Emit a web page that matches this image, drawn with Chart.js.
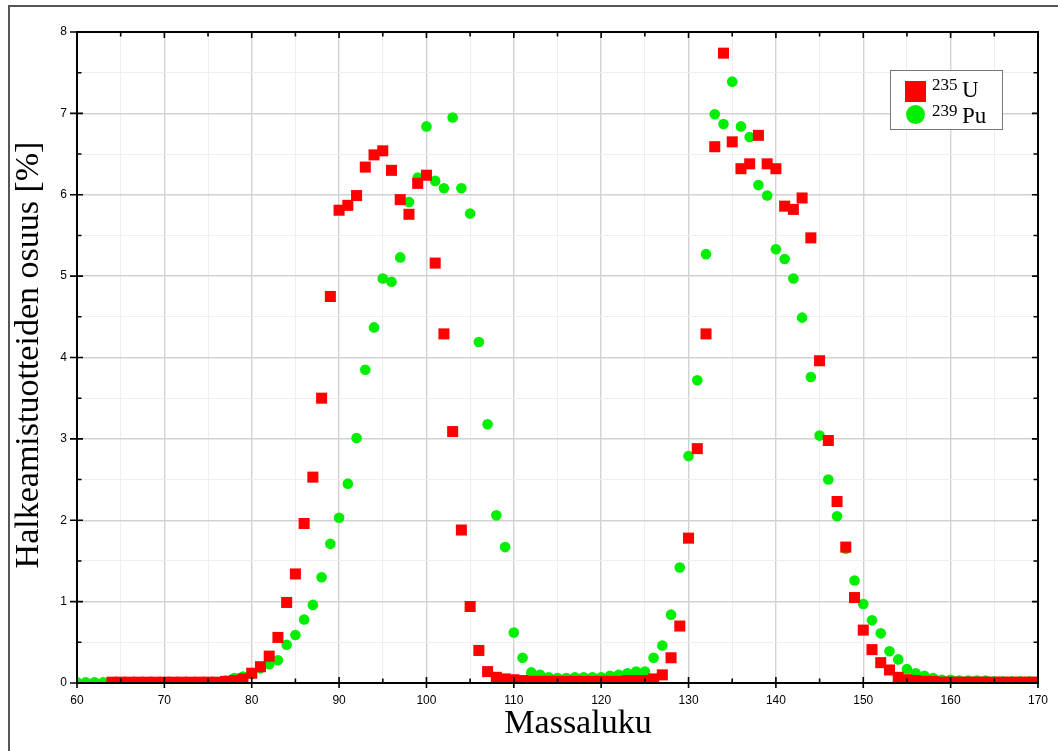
<!DOCTYPE html>
<html>
<head>
<meta charset="utf-8">
<title>Halkeamistuotteiden osuus</title>
<script src="https://cdn.jsdelivr.net/npm/chart.js@4.4.1/dist/chart.umd.min.js"></script>
<style>
  html, body { margin: 0; padding: 0; background: #fff; }
  #wrap { width: 1058px; height: 751px; position: relative; }
</style>
</head>
<body>
<div id="wrap"><canvas id="yieldChart" width="1058" height="751"></canvas></div>
<script>
const massNumbers = [
  60, 61, 62, 63, 64, 65, 66, 67, 68, 69,
  70, 71, 72, 73, 74, 75, 76, 77, 78, 79,
  80, 81, 82, 83, 84, 85, 86, 87, 88, 89,
  90, 91, 92, 93, 94, 95, 96, 97, 98, 99,
  100, 101, 102, 103, 104, 105, 106, 107, 108, 109,
  110, 111, 112, 113, 114, 115, 116, 117, 118, 119,
  120, 121, 122, 123, 124, 125, 126, 127, 128, 129,
  130, 131, 132, 133, 134, 135, 136, 137, 138, 139,
  140, 141, 142, 143, 144, 145, 146, 147, 148, 149,
  150, 151, 152, 153, 154, 155, 156, 157, 158, 159,
  160, 161, 162, 163, 164, 165, 166, 167, 168, 169,
  170
];

// fission yield [%] per mass number
const yieldU235 = [
  null, null, null, null, 0.01, 0.01, 0.01, 0.01, 0.01, 0.01,
  0.01, 0.01, 0.01, 0.01, 0.01, 0.01, 0.01, 0.02, 0.03, 0.05,
  0.12, 0.20, 0.33, 0.56, 0.99, 1.34, 1.96, 2.53, 3.50, 4.75,
  5.81, 5.87, 5.99, 6.34, 6.49, 6.54, 6.30, 5.94, 5.76, 6.14,
  6.24, 5.16, 4.29, 3.09, 1.88, 0.94, 0.40, 0.14, 0.07, 0.05,
  0.04, 0.03, 0.02, 0.02, 0.02, 0.02, 0.02, 0.02, 0.02, 0.02,
  0.02, 0.02, 0.02, 0.03, 0.03, 0.03, 0.05, 0.10, 0.31, 0.70,
  1.78, 2.88, 4.29, 6.59, 7.74, 6.65, 6.32, 6.38, 6.73, 6.38,
  6.32, 5.86, 5.82, 5.96, 5.47, 3.96, 2.98, 2.23, 1.67, 1.05,
  0.65, 0.41, 0.25, 0.16, 0.07, 0.04, 0.03, 0.02, 0.02, 0.01,
  0.01, 0.01, 0.01, 0.01, 0.01, 0.01, 0.01, 0.01, 0.01, 0.01,
  0.01
];

const yieldPu239 = [
  0.01, 0.01, 0.01, 0.01, 0.01, 0.01, 0.01, 0.01, 0.01, 0.01,
  0.01, 0.01, 0.01, 0.01, 0.01, 0.01, 0.01, 0.03, 0.06, 0.08,
  0.11, 0.18, 0.23, 0.28, 0.47, 0.59, 0.78, 0.96, 1.30, 1.71,
  2.03, 2.45, 3.01, 3.85, 4.37, 4.97, 4.93, 5.23, 5.91, 6.21,
  6.84, 6.17, 6.08, 6.95, 6.08, 5.77, 4.19, 3.18, 2.06, 1.67,
  0.62, 0.31, 0.13, 0.10, 0.07, 0.06, 0.06, 0.07, 0.07, 0.07,
  0.07, 0.09, 0.10, 0.12, 0.14, 0.14, 0.31, 0.46, 0.84, 1.42,
  2.79, 3.72, 5.27, 6.99, 6.87, 7.39, 6.84, 6.71, 6.12, 5.99,
  5.33, 5.21, 4.97, 4.49, 3.76, 3.04, 2.50, 2.05, 1.65, 1.26,
  0.97, 0.77, 0.61, 0.39, 0.29, 0.17, 0.12, 0.09, 0.06, 0.04,
  0.04, 0.03, 0.03, 0.03, 0.03, 0.02, 0.02, 0.02, 0.02, 0.02,
  0.02
];

const isotopeMass = ['235', '239'];
const isotopeSymbol = ['U', 'Pu'];
const xTickLabels = [60, 70, 80, 90, 100, 110, 120, 130, 140, 150, 160, 170];
const yTickLabels = [0, 1, 2, 3, 4, 5, 6, 7, 8];

const TICK_FONT = "'Liberation Sans Narrow', 'Arial Narrow', 'Liberation Sans', sans-serif";
const SERIF_FONT = "'Liberation Serif', 'DejaVu Serif', serif";
const RED = '#ff0000';
const GREEN = '#00ee00';

function toPoints(values) {
  return massNumbers.map((m, i) => ({ x: m, y: values[i] }));
}

// page frame, plot box, inward ticks, axis titles and legend
const decorations = {
  id: 'decorations',
  beforeDraw(chart) {
    const { ctx, width, height } = chart;
    ctx.save();
    ctx.fillStyle = '#fff';
    ctx.fillRect(0, 0, width, height);
    ctx.strokeStyle = '#555';
    ctx.lineWidth = 2;
    ctx.beginPath();
    ctx.moveTo(9, height);
    ctx.lineTo(9, 6);
    ctx.lineTo(width, 6);
    ctx.stroke();
    ctx.restore();
  },
  afterDraw(chart) {
    const { ctx, chartArea: a, scales: { x, y } } = chart;
    ctx.save();

    ctx.strokeStyle = '#000';
    ctx.lineWidth = 2;
    ctx.strokeRect(a.left, a.top, a.right - a.left, a.bottom - a.top);

    ctx.lineWidth = 1.6;
    ctx.beginPath();
    x.ticks.forEach(t => {
      const px = x.getPixelForValue(t.value);
      const major = xTickLabels.includes(t.value);
      const len = major ? 6 : 4.5;
      ctx.moveTo(px, a.bottom + (major ? 5 : 0));
      ctx.lineTo(px, a.bottom - len);
      ctx.moveTo(px, a.top);
      ctx.lineTo(px, a.top + len);
    });
    y.ticks.forEach(t => {
      const py = y.getPixelForValue(t.value);
      const major = yTickLabels.includes(t.value);
      const len = major ? 6 : 4.5;
      ctx.moveTo(a.left - (major ? 7 : 0), py);
      ctx.lineTo(a.left + len, py);
      ctx.moveTo(a.right, py);
      ctx.lineTo(a.right - len, py);
    });
    ctx.stroke();

    // axis titles
    ctx.fillStyle = '#000';
    ctx.font = '34px ' + SERIF_FONT;
    ctx.textAlign = 'center';
    ctx.textBaseline = 'alphabetic';
    ctx.fillText('Massaluku', 578, 733);
    ctx.save();
    ctx.translate(38, 355);
    ctx.rotate(-Math.PI / 2);
    ctx.fillText('Halkeamistuotteiden osuus [%]', 0, 0);
    ctx.restore();

    // legend
    const box = { left: 890, top: 70, w: 112, h: 59 };
    ctx.fillStyle = '#fff';
    ctx.fillRect(box.left, box.top, box.w, box.h);
    ctx.strokeStyle = '#777';
    ctx.lineWidth = 1;
    ctx.strokeRect(box.left + 0.5, box.top + 0.5, box.w, box.h);

    const ds = chart.data.datasets;
    ctx.fillStyle = ds[0].backgroundColor;
    ctx.fillRect(905, 81, 21, 21);
    ctx.fillStyle = ds[1].backgroundColor;
    ctx.beginPath();
    ctx.arc(915.5, 114.5, 9.5, 0, Math.PI * 2);
    ctx.fill();

    ctx.fillStyle = '#000';
    ctx.textAlign = 'left';
    const rows = [{ sup: 90, base: 97 }, { sup: 116, base: 123 }];
    rows.forEach((r, i) => {
      ctx.font = '17px ' + SERIF_FONT;
      ctx.fillText(isotopeMass[i], 932, r.sup);
      ctx.font = '23px ' + SERIF_FONT;
      ctx.fillText(isotopeSymbol[i], 962, r.base);
    });

    ctx.restore();
  }
};

new Chart(document.getElementById('yieldChart'), {
  type: 'scatter',
  data: {
    datasets: [
      {
        label: '235U',
        data: toPoints(yieldU235),
        pointStyle: 'rect',
        pointRadius: 7.8,
        pointHoverRadius: 7.8,
        borderWidth: 0,
        backgroundColor: RED,
        borderColor: RED,
        clip: 0
      },
      {
        label: '239Pu',
        data: toPoints(yieldPu239),
        pointStyle: 'circle',
        pointRadius: 5.3,
        pointHoverRadius: 5.3,
        borderWidth: 0,
        backgroundColor: GREEN,
        borderColor: GREEN,
        clip: 0
      }
    ]
  },
  options: {
    responsive: false,
    devicePixelRatio: 1,
    animation: false,
    layout: { padding: { top: 32, right: 18, left: 0, bottom: 0 } },
    plugins: {
      legend: { display: false },
      tooltip: { enabled: false }
    },
    scales: {
      x: {
        type: 'linear',
        min: 60,
        max: 170,
        afterFit: s => { s.height = 68; },
        border: { display: false },
        grid: {
          drawTicks: false,
          color: c => xTickLabels.includes(c.tick.value) ? '#d2d2d2' : '#eeeeee',
          lineWidth: c => xTickLabels.includes(c.tick.value) ? 1.4 : 1
        },
        ticks: {
          stepSize: 5,
          autoSkip: false,
          maxRotation: 0,
          padding: 10,
          color: '#000',
          font: { family: TICK_FONT, size: 12 },
          callback: v => xTickLabels.includes(v) ? String(v) : ''
        }
      },
      y: {
        type: 'linear',
        min: 0,
        max: 8,
        afterFit: s => { s.width = 77; },
        border: { display: false },
        grid: {
          drawTicks: false,
          color: c => yTickLabels.includes(c.tick.value) ? '#d2d2d2' : '#eeeeee',
          lineWidth: c => yTickLabels.includes(c.tick.value) ? 1.4 : 1
        },
        ticks: {
          stepSize: 0.5,
          autoSkip: false,
          padding: 10,
          color: '#000',
          font: { family: TICK_FONT, size: 12 },
          callback: v => yTickLabels.includes(v) ? String(v) : ''
        }
      }
    }
  },
  plugins: [decorations]
});
</script>
</body>
</html>
